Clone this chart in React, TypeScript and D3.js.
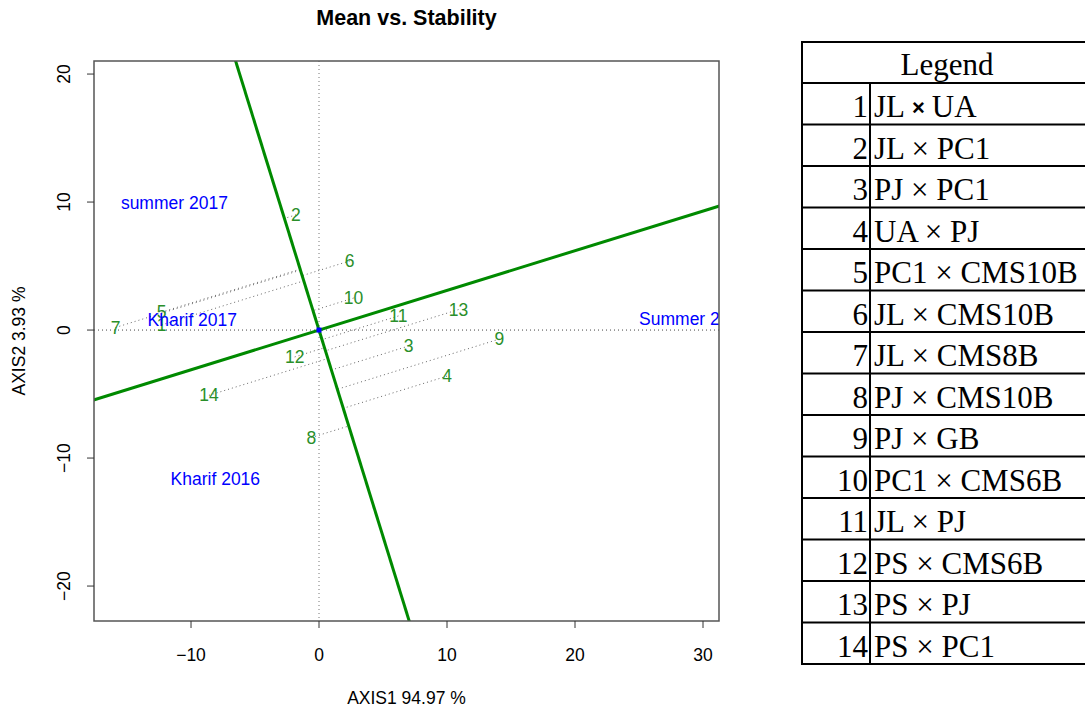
import React from 'react';
import * as d3 from 'd3';

// genotype scores
const genoLabels = ['1', '2', '3', '4', '5', '6', '7', '8', '9', '10', '11', '12', '13', '14'];
const genoX = [-12.3, -1.8, 7.0, 10.0, -12.3, 2.4, -15.9, -0.6, 14.1, 2.7, 6.2, -1.9, 10.9, -8.6];
const genoY = [0.4, 9.0, -1.25, -3.6, 1.4, 5.4, 0.2, -8.4, -0.7, 2.5, 1.1, -2.1, 1.6, -5.1];

// environment scores
const envLabels = ['summer 2017', 'Kharif 2017', 'Summer 2016', 'Kharif 2016'];
const envX = [-11.3, -9.9, 29.3, -8.1];
const envY = [9.9, 0.8, 0.85, -11.6];

// average environment coordinate (defines the AEC abscissa)
const avgEnv = [6.0, 1.86];

const xTicks = [-10, 0, 10, 20, 30];
const yTicks = [-20, -10, 0, 10, 20];

const legendNo = ['1', '2', '3', '4', '5', '6', '7', '8', '9', '10', '11', '12', '13', '14'];
const legendA = ['JL', 'JL', 'PJ', 'UA', 'PC1', 'JL', 'JL', 'PJ', 'PJ', 'PC1', 'JL', 'PS', 'PS', 'PS'];
const legendB = ['UA', 'PC1', 'PC1', 'PJ', 'CMS10B', 'CMS10B', 'CMS8B', 'CMS10B', 'GB', 'CMS6B', 'PJ', 'CMS6B', 'PJ', 'PC1'];

const W = 1085;
const H = 709;
const left = 94, right = 719, top = 61, bottom = 621;
const sans = 'Liberation Sans, Arial, sans-serif';
const serif = 'Liberation Serif, Times New Roman, serif';
const green = '#008a00';
const labelGreen = '#2a8f2a';

export default function App() {
  const x = d3.scaleLinear().domain([-17.58, 31.25]).range([left, right]);
  const y = d3.scaleLinear().domain([-22.73, 21.02]).range([bottom, top]);

  // AEC abscissa direction and its perpendicular
  const [ax, ay] = avgEnv;
  const ext = 200;
  const absLine = [[-ax * ext, -ay * ext], [ax * ext, ay * ext]];
  const ordLine = [[ay * ext, -ax * ext], [-ay * ext, ax * ext]];
  const line = d3.line<number[]>().x(d => x(d[0])).y(d => y(d[1]));

  const ox = -ay, oy = ax;
  const on = ox * ox + oy * oy;
  const feet = genoX.map((gx, i) => {
    const t = (gx * ox + genoY[i] * oy) / on;
    return [t * ox, t * oy];
  });

  // legend table
  const tLeft = 802, tDiv = 870, tRight = 1100, tTop = 42, headH = 41, rowH = 41.5;
  const rowY = d3.range(legendNo.length + 1).map(i => tTop + headH + i * rowH);

  return (
    <svg width={W} height={H} style={{ position: 'absolute', left: 0, top: 0, background: '#fff' }}>
      <defs>
        <clipPath id="plotClip">
          <rect x={left} y={top} width={right - left} height={bottom - top} />
        </clipPath>
      </defs>

      <text x={(left + right) / 2} y={25} textAnchor="middle" fontFamily={sans} fontWeight="bold" fontSize={21.5}>
        Mean vs. Stability
      </text>

      <g clipPath="url(#plotClip)">
        {/* reference axes */}
        <line x1={left} x2={right} y1={y(0)} y2={y(0)} stroke="#444" strokeDasharray="1,3" />
        <line x1={x(0)} x2={x(0)} y1={top} y2={bottom} stroke="#777" strokeDasharray="1,3" />

        {/* projections onto AEC ordinate */}
        {genoX.map((gx, i) => (
          <line key={'p' + i} x1={x(gx)} y1={y(genoY[i])} x2={x(feet[i][0])} y2={y(feet[i][1])}
            stroke="#666" strokeDasharray="1,3" />
        ))}

        <path d={line(absLine) || ''} stroke={green} strokeWidth={3} fill="none" />
        <path d={line(ordLine) || ''} stroke={green} strokeWidth={3} fill="none" />

        <rect x={x(0) - 2.5} y={y(0) - 2.5} width={5} height={5} fill="#0000ff" />

        {genoLabels.map((g, i) => (
          <text key={'g' + i} x={x(genoX[i])} y={y(genoY[i])} dy="0.35em" textAnchor="middle"
            fontFamily={sans} fontSize={17.5} fill={labelGreen}>{g}</text>
        ))}

        {envLabels.map((e, i) => (
          <text key={'e' + i} x={x(envX[i])} y={y(envY[i])} dy="0.35em" textAnchor="middle"
            fontFamily={sans} fontSize={17.5} fill="#0000ff">{e}</text>
        ))}
      </g>

      <rect x={left} y={top} width={right - left} height={bottom - top} fill="none" stroke="#555" strokeWidth={1.5} />

      {/* x axis */}
      {xTicks.map(t => (
        <g key={'xt' + t}>
          <line x1={x(t)} x2={x(t)} y1={bottom} y2={bottom + 7} stroke="#333" />
          <text x={x(t)} y={bottom + 40} textAnchor="middle" fontFamily={sans} fontSize={17.5}>
            {t < 0 ? '\u2212' + Math.abs(t) : t}
          </text>
        </g>
      ))}
      {/* y axis */}
      {yTicks.map(t => (
        <g key={'yt' + t}>
          <line x1={left - 7} x2={left} y1={y(t)} y2={y(t)} stroke="#333" />
          <text transform={`translate(${left - 24},${y(t)}) rotate(-90)`} textAnchor="middle"
            fontFamily={sans} fontSize={17.5}>
            {t < 0 ? '\u2212' + Math.abs(t) : t}
          </text>
        </g>
      ))}

      <text x={(left + right) / 2} y={704} textAnchor="middle" fontFamily={sans} fontSize={17.5}>AXIS1 94.97 %</text>
      <text transform={`translate(25,${(top + bottom) / 2}) rotate(-90)`} textAnchor="middle" fontFamily={sans} fontSize={17.5}>
        AXIS2 3.93 %
      </text>

      {/* legend table */}
      <g fontFamily={serif} fontSize={31}>
        <rect x={tLeft} y={tTop} width={tRight - tLeft} height={rowY[rowY.length - 1] - tTop} fill="none" stroke="#000" strokeWidth={2} />
        {rowY.slice(0, -1).map((ry, i) => (
          <line key={'rl' + i} x1={tLeft} x2={tRight} y1={ry} y2={ry} stroke="#000" strokeWidth={2} />
        ))}
        <line x1={tDiv} x2={tDiv} y1={rowY[0]} y2={rowY[rowY.length - 1]} stroke="#000" strokeWidth={2} />
        <text x={947} y={tTop + 33} textAnchor="middle">Legend</text>
        {legendNo.map((n, i) => (
          <g key={'lg' + i}>
            <text x={tDiv - 2} y={rowY[i] + 34} textAnchor="end">{n}</text>
            <text x={tDiv + 4} y={rowY[i] + 34}>
              {legendA[i]}
              {i === 0
                ? <tspan fontFamily={sans} fontWeight="bold" fontSize={22} dx={7} dy={-2}>{'\u00d7'}</tspan>
                : <tspan>{' \u00d7'}</tspan>}
              <tspan dx={i === 0 ? 7 : 0} dy={i === 0 ? 2 : 0}>{i === 0 ? legendB[i] : ' ' + legendB[i]}</tspan>
            </text>
          </g>
        ))}
      </g>
    </svg>
  );
}
